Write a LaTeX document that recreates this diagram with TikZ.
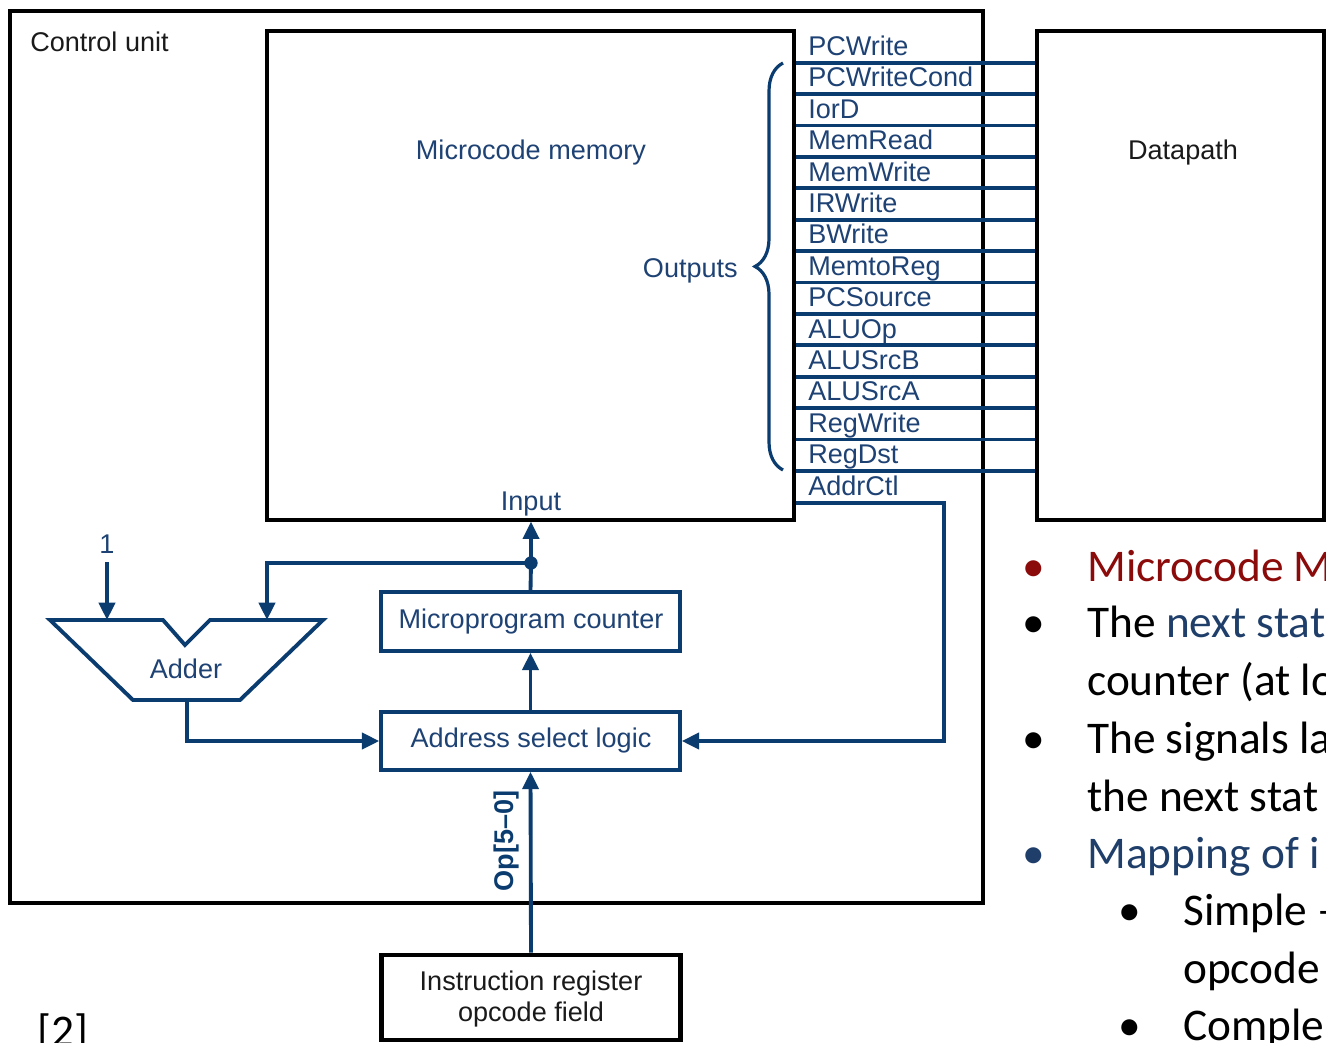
\documentclass[tikz,border=0pt]{standalone}
\usepackage{fontspec}
\setmainfont{Liberation Sans}
\newfontfamily\slidefont{Carlito}
\usetikzlibrary{arrows.meta,decorations.pathreplacing}

\definecolor{wire}{HTML}{0B3C6F}
\definecolor{labelblue}{HTML}{1E4274}
\definecolor{ink}{HTML}{1A1A1A}
\definecolor{slidered}{HTML}{8B0A0A}
\definecolor{slideblue}{HTML}{1F3F6A}

\begin{document}
\begin{tikzpicture}[x=0.75pt,y=-0.75pt,
  diag/.style={font=\fontsize{20.3}{22}\selectfont, inner sep=0pt},
  frame/.style={draw=black, inner sep=0pt},
  bluebox/.style={draw=wire, line width=2.6pt, inner sep=0pt},
  wireline/.style={draw=wire, line width=2.9pt},
  arr/.style={-{Triangle[width=12pt,length=13pt]}},
  slide/.style={font=\slidefont\fontsize{34}{40}\selectfont, inner sep=0pt},
]
\useasboundingbox (0,0) rectangle (1326,1042);
\clip (0,0) rectangle (1326,1042);

% ---------- boxes ----------
\node[frame, line width=3pt, minimum width={973*0.75pt}, minimum height={892*0.75pt}] (cu) at (496.5,457) {};
\node[frame, line width=2.4pt, minimum width={527*0.75pt}, minimum height={489*0.75pt}] (mem) at (530.5,275.5) {};
\node[frame, line width=2.8pt, minimum width={287*0.75pt}, minimum height={489*0.75pt}] (dp) at (1180.5,275.5) {};
\node[bluebox, minimum width={299*0.75pt}, minimum height={59*0.75pt}] (mpc) at (530.5,621.5) {};
\node[bluebox, minimum width={299*0.75pt}, minimum height={58*0.75pt}] (asl) at (530.5,741) {};
\node[frame, line width=3.6pt, minimum width={299*0.75pt}, minimum height={85*0.75pt}] (ir) at (531,997.5) {};

% ---------- box texts ----------
\node[diag, text=ink, anchor=base west] (cutext) at (30,51) {Control unit};
\node[diag, text=labelblue, anchor=base] (memtext) at (531,159.5) {Microcode memory};
\node[diag, text=ink, anchor=base] (dptext) at (1183,159.5) {Datapath};
\node[diag, text=labelblue, anchor=base east] (outlabel) at (738,277) {Outputs};
\node[diag, text=labelblue, anchor=base] (inlabel) at (531,510) {Input};
\node[diag, text=labelblue, anchor=base] (mpctext) at (531,628.5) {Microprogram counter};
\node[diag, text=labelblue, anchor=base] (asltext) at (531,747) {Address select logic};
\node[diag, text=ink, anchor=base] (irtext1) at (531,990) {Instruction register};
\node[diag, text=ink, anchor=base] (irtext2) at (531,1021.5) {opcode field};

% ---------- control outputs ----------
\foreach \sig [count=\i from 0] in {PCWrite,PCWriteCond,IorD,MemRead,MemWrite,IRWrite,BWrite,MemtoReg,PCSource,ALUOp,ALUSrcB,ALUSrcA,RegWrite,RegDst,AddrCtl}
  \node[diag, text=labelblue, anchor=base west] (out\i) at (808,55.5+31.4*\i) {\sig};
\foreach \i in {0,...,13}
  \draw[wireline] (mem.east |- 0,62.7+31.4*\i) -- (dp.west |- 0,62.7+31.4*\i);

% brace grouping the outputs
\draw[draw=wire, line width=2.4pt, decorate, decoration={brace, amplitude=21pt}] (783,470) -- (783,63);

% ---------- adder ----------
\coordinate (addA) at (107,620);
\coordinate (addB) at (267,620);
\coordinate (addOut) at (187,700);
\draw[wireline, line join=miter] (50,620) -- (163,620) -- (185,645) -- (210,620) -- (323,620) -- (240,700) -- (133,700) -- cycle;
\node[diag, text=labelblue, anchor=base] (addtext) at (186,678) {Adder};
\node[diag, text=labelblue, anchor=base] (one) at (107,553) {1};

% ---------- connectors ----------
\coordinate (j) at (531,563);
\coordinate (ac) at (944,503);
\draw[wireline] (mpc.north) -- (j);
\draw[wireline, arr] (j) -- (j |- mem.south);
\draw[wireline, arr] (j) -| (addB);
\fill[wire] (j) circle[radius=5pt];
\draw[wireline, arr] (107,562) -- (addA);
\draw[wireline, arr] (asl.north) -- (mpc.south);
\draw[wireline, arr] (addOut) |- (asl.west);
\draw[wireline, arr] (mem.east |- ac) -- (ac) |- (asl.east);
\draw[wireline, arr] (ir.north) -- (asl.south);
\node[diag, font=\fontsize{20.3}{22}\selectfont\bfseries, text=wire, rotate=90] (oplabel) at (506,841) {Op[5–0]};

% ---------- slide text ----------
\node[slide, text=slidered, anchor=base] (b1) at (1034,581) {•};
\node[slide, text=slidered, anchor=base west] (t1) at (1087,581) {Microcode M};
\node[slide, anchor=base] (b2) at (1034,637) {•};
\node[slide, anchor=base west] (t2) at (1087,637) {The \textcolor{slideblue}{next stat}};
\node[slide, anchor=base west] (t3) at (1087,695) {counter (at lo};
\node[slide, anchor=base] (b4) at (1034,753) {•};
\node[slide, anchor=base west] (t4) at (1087,753) {The signals la};
\node[slide, anchor=base west] (t5) at (1087,811) {the next stat};
\node[slide, text=slideblue, anchor=base] (b6) at (1034,868) {•};
\node[slide, text=slideblue, anchor=base west] (t6) at (1087,868) {Mapping of i};
\node[slide, anchor=base] (b7) at (1130,925) {•};
\node[slide, anchor=base west] (t7) at (1183,925) {Simple –};
\node[slide, anchor=base west] (t8) at (1183,983) {opcode};
\node[slide, anchor=base] (b9) at (1130,1040) {•};
\node[slide, anchor=base west] (t9) at (1183,1040) {Comple};
\node[slide, anchor=base west] (ref) at (37,1046) {[2]};
\end{tikzpicture}
\end{document}
